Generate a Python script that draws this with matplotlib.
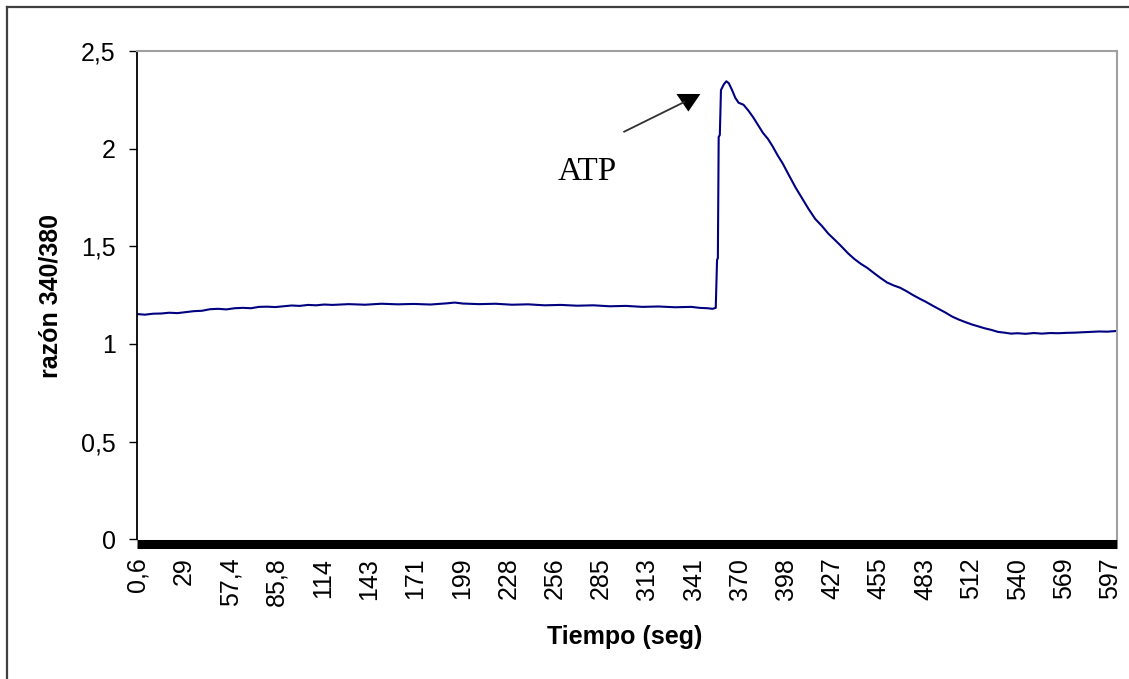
import matplotlib
matplotlib.use("Agg")
import matplotlib.pyplot as plt
from matplotlib.lines import Line2D

# ---- data ----
tiempo = [0.6, 5, 10, 15, 20, 25, 30, 35, 40, 45, 50, 55, 60, 65, 70, 75, 80, 85, 90, 95,
          100, 105, 110, 115, 120, 130, 140, 150, 160, 170, 180, 190, 195, 200, 210, 220,
          230, 240, 250, 260, 270, 280, 290, 300, 310, 320, 330, 340, 345, 350, 353, 355,
          355.8, 356.3, 356.8, 357.5, 358.2, 360, 361.5, 363, 365, 367, 369, 372, 375, 378,
          381, 384, 387, 390, 393, 396, 400, 404, 408, 412, 416, 420, 424, 428, 432, 436,
          440, 444, 448, 452, 456, 460, 464, 468, 472, 476, 480, 484, 488, 492, 496, 500,
          504, 508, 512, 516, 520, 524, 528, 532, 536, 540, 545, 550, 555, 560, 565, 570,
          575, 580, 585, 590, 595, 600]
razon = [1.153, 1.150, 1.155, 1.156, 1.160, 1.158, 1.163, 1.168, 1.170, 1.178, 1.180, 1.177,
         1.183, 1.185, 1.183, 1.190, 1.191, 1.189, 1.193, 1.197, 1.195, 1.200, 1.198, 1.202,
         1.200, 1.204, 1.201, 1.206, 1.203, 1.205, 1.202, 1.208, 1.212, 1.207, 1.204, 1.206,
         1.201, 1.203, 1.198, 1.200, 1.196, 1.198, 1.193, 1.195, 1.190, 1.192, 1.188, 1.190,
         1.185, 1.183, 1.180, 1.185,
         1.43, 1.44, 2.06, 2.07, 2.30, 2.33, 2.345, 2.335, 2.30, 2.26, 2.235, 2.225, 2.195,
         2.16, 2.12, 2.08, 2.05, 2.01, 1.965, 1.925, 1.862, 1.80, 1.745, 1.69, 1.64, 1.605,
         1.565, 1.533, 1.50, 1.465, 1.435, 1.41, 1.389, 1.363, 1.338, 1.315, 1.30, 1.288,
         1.27, 1.25, 1.232, 1.215, 1.196, 1.178, 1.16, 1.14, 1.125, 1.112, 1.10, 1.09, 1.08,
         1.072, 1.062, 1.058, 1.053, 1.055, 1.052, 1.056, 1.053, 1.056, 1.055, 1.057, 1.058,
         1.060, 1.062, 1.064, 1.063, 1.066]

xtick_pos = [0.6, 29.0, 57.4, 85.8, 114.2, 142.6, 171.0, 199.4, 227.8, 256.2, 284.6, 313.0,
             341.4, 369.8, 398.2, 426.6, 455.0, 483.4, 511.8, 540.2, 568.6, 597.0]
xtick_labels = ["0,6", "29", "57,4", "85,8", "114", "143", "171", "199", "228", "256", "285",
                "313", "341", "370", "398", "427", "455", "483", "512", "540", "569", "597"]
ytick_pos = [0, 0.5, 1, 1.5, 2, 2.5]
ytick_labels = ["0", "0,5", "1", "1,5", "2", "2,5"]

W, H = 1129, 679
fig = plt.figure(figsize=(W / 100, H / 100), dpi=100)
fig.patch.set_facecolor("white")

ax = fig.add_axes([136.7 / W, 1 - 539.3 / H, (1117 - 136.7) / W, (539.3 - 51) / H])

# spines first (set_position resets tick settings)
for s in ["top", "right"]:
    ax.spines[s].set_color("#a0a0a0")
    ax.spines[s].set_linewidth(1.5)
ax.spines["left"].set_color("black")
ax.spines["left"].set_linewidth(1.3)
ax.spines["bottom"].set_position(("outward", 3.2))
ax.spines["bottom"].set_color("black")
ax.spines["bottom"].set_linewidth(6.5)
ax.spines["bottom"].set_capstyle("butt")

ax.plot(tiempo, razon, color="#000080", lw=1.5)
ax.set_xlim(0.0, 601)
ax.set_ylim(0, 2.5)

tick_font = dict(family=["Liberation Sans", "DejaVu Sans"], size=18)
ax.set_yticks(ytick_pos)
ax.set_yticklabels(ytick_labels, **tick_font)
ax.set_xticks(xtick_pos)
ax.set_xticklabels(xtick_labels, rotation=90, va="top", ha="center", **tick_font)
ax.tick_params(axis="y", direction="out", length=6, width=1, color="black", pad=9)
ax.tick_params(axis="x", length=0, pad=10)

# annotation arrow and label
ax.plot([298.4, 336.0], [2.085, 2.24], color="#303030", lw=1.3, solid_capstyle="butt")
ax.fill([330.9, 345.6, 338.2], [2.28, 2.28, 2.19], color="black", lw=0)
ax.text(276.5, 1.884, "ATP", ha="center", va="center",
        family=["Liberation Serif", "DejaVu Serif"], size=24)

label_font = dict(family=["Liberation Sans", "DejaVu Sans"], weight="bold", size=18)
fig.text(51 / W, 1 - 296 / H, "razón 340/380", rotation=90, ha="center", va="center", **label_font)
fig.text(625 / W, 1 - 637 / H, "Tiempo (seg)", ha="center", va="center", **label_font)

# outer frame (left and top only visible)
fig.add_artist(Line2D([7 / W, 7 / W], [0, 1 - 7 / H], color="#404040", lw=1.6,
                      transform=fig.transFigure))
fig.add_artist(Line2D([7 / W, 1], [1 - 7 / H, 1 - 7 / H], color="#404040", lw=1.6,
                      transform=fig.transFigure))

fig.savefig("out.png", dpi=100)
